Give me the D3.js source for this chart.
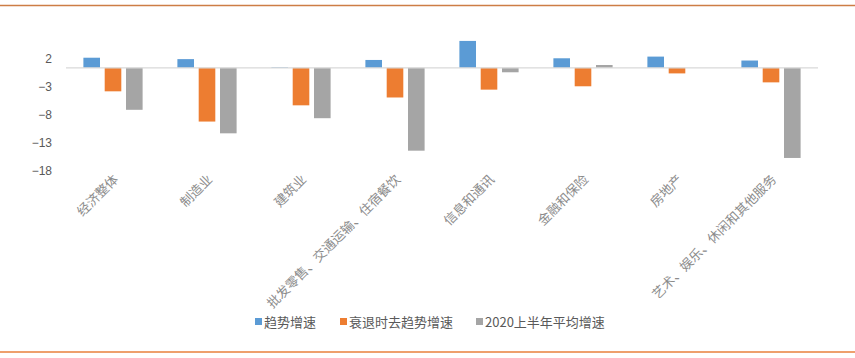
<!DOCTYPE html>
<html><head><meta charset="utf-8">
<script src="https://cdn.jsdelivr.net/npm/d3@7"></script>
<style>body{margin:0;background:#fff}svg{display:block}</style>
</head><body>
<svg id="c" width="855" height="358"></svg>
<script>
const categories = ["经济整体","制造业","建筑业","批发零售、交通运输、住宿餐饮","信息和通讯","金融和保险","房地产","艺术、娱乐、休闲和其他服务"];
const seriesNames = ["趋势增速","衰退时去趋势增速","2020上半年平均增速"];
const trend = [1.8, 1.55, 0.1, 1.4, 4.8, 1.7, 2.0, 1.3];
const recession = [-4.2, -9.6, -6.7, -5.3, -3.9, -3.3, -1.0, -2.6];
const h1avg = [-7.5, -11.7, -9.0, -14.8, -0.8, 0.5, 0, -16.1];
const yTicks = [2, -3, -8, -13, -18];
const colors = ["#5B9BD5", "#ED7D31", "#A5A5A5"];

const svg = d3.select("#c");
svg.append("line").attr("x1",0).attr("x2",855).attr("y1",5.5).attr("y2",5.5).attr("stroke","#CD7D45").attr("stroke-width",1.5);
svg.append("line").attr("x1",0).attr("x2",855).attr("y1",352).attr("y2",352).attr("stroke","#E8803C").attr("stroke-width",1.5);

const y = d3.scaleLinear().domain([-18, 2]).range([168.6, 56.6]);
const x0 = d3.scaleBand().domain(categories).range([66, 818]).paddingInner(0.37).paddingOuter(0.185);
const x1 = d3.scaleBand().domain(seriesNames).range([0, x0.bandwidth()]).paddingInner(0.22);

const series = [trend, recession, h1avg];
const g = svg.append("g");
categories.forEach((c, i) => {
  series.forEach((s, j) => {
    const v = s[i];
    if (v === 0) return;
    g.append("rect")
      .attr("x", x0(c) + x1(seriesNames[j]))
      .attr("width", x1.bandwidth())
      .attr("y", y(Math.max(0, v)))
      .attr("height", Math.abs(y(v) - y(0)))
      .attr("fill", colors[j]);
  });
});

// zero axis line
svg.append("line").attr("x1",66).attr("x2",818).attr("y1",y(0)).attr("y2",y(0)).attr("stroke","#D9D9D9").attr("stroke-width",1.2);

// y axis labels
const yAxis = d3.axisLeft(y).tickValues(yTicks).tickSize(0).tickPadding(0);
const ya = svg.append("g").attr("transform","translate(52,0)").call(yAxis);
ya.select(".domain").remove();
ya.selectAll("text").attr("font-family","'Liberation Sans', Arial, sans-serif").attr("font-size",12).attr("fill","#595959").attr("dy","0.45em");

// x labels
const xAxis = d3.axisBottom(x0).tickSize(0).tickPadding(0);
const xa = svg.append("g").call(xAxis);
xa.select(".domain").remove();
xa.selectAll(".tick").attr("transform", d => `translate(${x0(d) + x0.bandwidth()/2 + 3},177)`);
xa.selectAll("text")
  .attr("font-family","'Noto Sans CJK SC', sans-serif")
  .attr("font-size",13)
  .attr("fill","#8C8C8C")
  .attr("text-anchor","end")
  .attr("y",0).attr("dy","0.35em")
  .attr("transform","rotate(-45)");

// legend
const legendX = [255, 340, 476];
const lg = svg.append("g");
seriesNames.forEach((n, j) => {
  lg.append("rect").attr("x", legendX[j]).attr("y", 318).attr("width", 7).attr("height", 7).attr("fill", colors[j]);
  lg.append("text").attr("x", legendX[j] + 9).attr("y", 322).attr("dy","0.35em")
    .attr("font-family","'Noto Sans CJK SC', sans-serif").attr("font-size",13).attr("fill","#595959").text(n);
});
</script>
</body></html>
